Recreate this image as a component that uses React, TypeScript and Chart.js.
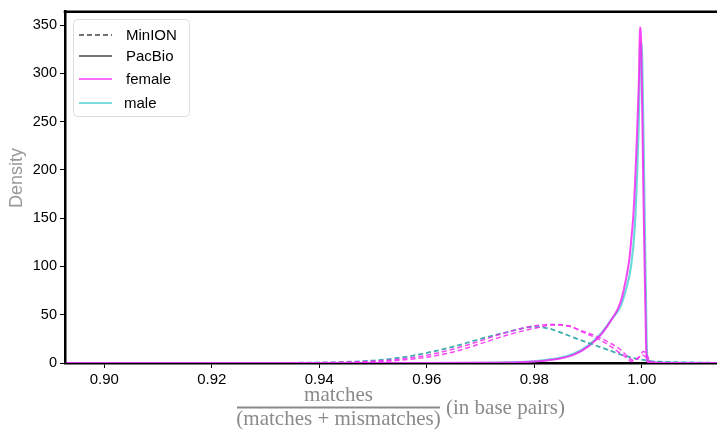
import React, { useEffect, useRef } from "react";
import { Chart, registerables } from "chart.js";

Chart.register(...registerables);

// ---- data ----
const xTicks = [0.9, 0.92, 0.94, 0.96, 0.98, 1.0];
const yTicks = [0, 50, 100, 150, 200, 250, 300, 350];

const minionMaleX = [0.893, 0.92, 0.935, 0.94, 0.945, 0.95, 0.955, 0.96, 0.965, 0.97, 0.975, 0.98, 0.9825, 0.985, 0.9875, 0.99, 0.9925, 0.995, 0.9975, 1.0, 1.0015, 1.004, 1.008, 1.014];
const minionMaleY = [0, 0, 0.2, 0.5, 1.2, 2.5, 5.5, 10.5, 17, 25, 32, 37.5, 36, 31.5, 26, 21, 16, 11, 6.5, 3.5, 2, 1.2, 0.6, 0.2];

const minionFemaleAX = [0.893, 0.935, 0.94, 0.945, 0.95, 0.955, 0.96, 0.965, 0.97, 0.975, 0.98, 0.9835, 0.9865, 0.989, 0.9915, 0.994, 0.996, 0.9975, 0.9985, 0.9995, 1.0003, 1.001, 1.0015, 1.003, 1.008, 1.014];
const minionFemaleAY = [0, 0.1, 0.3, 0.8, 1.8, 4, 8, 14.5, 23, 32, 38.5, 40, 38, 33, 28, 21, 14, 6, 2.5, 6, 12, 8, 2, 0.5, 0.1, 0];

const minionFemaleBX = [0.893, 0.94, 0.945, 0.95, 0.955, 0.96, 0.965, 0.97, 0.975, 0.98, 0.9835, 0.9865, 0.989, 0.9915, 0.994, 0.996, 0.9975, 0.998, 0.999, 1.0002, 1.001, 1.0015, 1.003, 1.014];
const minionFemaleBY = [0, 0.2, 0.5, 1.2, 2.8, 6, 11.5, 20, 29, 36, 39.5, 38.5, 32, 26, 18, 10, 4, 1.5, 4, 8, 5, 1.5, 0.3, 0];

const pacbioFemaleX = [0.893, 0.96, 0.97, 0.975, 0.98, 0.985, 0.9875, 0.99, 0.9925, 0.9945, 0.996, 0.997, 0.9977, 0.998, 0.9984, 0.9987, 0.999, 0.9993, 0.9995, 0.99965, 0.9999, 1.0003, 1.0008, 1.0011, 1.0015, 1.005, 1.014];
const pacbioFemaleY = [0, 0, 0.2, 0.5, 1.5, 5, 9, 17, 30, 46, 62, 85, 108, 125, 150, 180, 220, 265, 300, 348, 330, 180, 20, 1, 0.5, 0, 0];

const pacbioMaleX = [0.893, 0.96, 0.97, 0.975, 0.98, 0.985, 0.9875, 0.99, 0.9925, 0.9945, 0.996, 0.997, 0.998, 0.9987, 0.9991, 0.9994, 0.9996, 0.9998, 1.0001, 1.0005, 1.0009, 1.0012, 1.003, 1.008, 1.014];
const pacbioMaleY = [0, 0, 0.2, 0.6, 1.8, 5.5, 10, 18, 31, 46, 58, 75, 100, 140, 190, 240, 290, 332, 310, 170, 25, 2, 0.5, 0.1, 0];

const legendLabels = ["MinION", "PacBio", "female", "male"];

const MAGENTA = "rgba(245, 40, 245, 0.85)";
const TEAL = "rgba(60, 205, 205, 0.75)";
const TEAL_DARK = "rgba(40, 165, 165, 0.9)";

function pts(xs: number[], ys: number[]) {
  return xs.map((x, i) => ({ x, y: ys[i] }));
}

const decorPlugin = {
  id: "decor",
  afterDraw(chart: any) {
    const ctx = chart.ctx as CanvasRenderingContext2D;
    const a = chart.chartArea;
    ctx.save();
    // top border
    ctx.strokeStyle = "#000";
    ctx.lineWidth = 2.5;
    ctx.beginPath();
    ctx.moveTo(a.left - 1.25, a.top);
    ctx.lineTo(a.right, a.top);
    ctx.stroke();

    // legend
    const lx = 73, ly = 19, lw = 116, lh = 97;
    ctx.fillStyle = "rgba(255,255,255,0.85)";
    ctx.strokeStyle = "#dddddd";
    ctx.lineWidth = 1;
    ctx.beginPath();
    (ctx as any).roundRect(lx + 0.5, ly + 0.5, lw, lh, 4);
    ctx.fill();
    ctx.stroke();
    const rows = [35, 56, 79, 103];
    const cols = ["#444", "#444", "rgba(245,40,245,0.9)", "rgba(60,205,205,0.9)"];
    rows.forEach((y, i) => {
      ctx.strokeStyle = cols[i];
      ctx.lineWidth = 1.6;
      ctx.setLineDash(i === 0 ? [5, 3] : []);
      ctx.beginPath();
      ctx.moveTo(79, y);
      ctx.lineTo(112, y);
      ctx.stroke();
      ctx.setLineDash([]);
      ctx.fillStyle = "#000";
      ctx.font = "15px 'Liberation Sans', Arial, sans-serif";
      ctx.textBaseline = "middle";
      ctx.textAlign = "left";
      ctx.fillText(legendLabels[i], i === 3 ? 124 : 126, y + 1);
    });

    // y title
    ctx.save();
    ctx.translate(17, 178);
    ctx.rotate(-Math.PI / 2);
    ctx.fillStyle = "#999";
    ctx.font = "18px 'Liberation Sans', Arial, sans-serif";
    ctx.textAlign = "center";
    ctx.textBaseline = "middle";
    ctx.fillText("Density", 0, 0);
    ctx.restore();

    // x title (fraction)
    ctx.fillStyle = "#8a8a8a";
    ctx.strokeStyle = "#8a8a8a";
    ctx.font = "21px 'Liberation Serif', 'Times New Roman', serif";
    ctx.textBaseline = "middle";
    ctx.textAlign = "center";
    const fx1 = 237, fx2 = 440;
    const cx = (fx1 + fx2) / 2;
    ctx.fillText("matches", cx, 395);
    ctx.lineWidth = 2;
    ctx.beginPath();
    ctx.moveTo(fx1, 407.5);
    ctx.lineTo(fx2, 407.5);
    ctx.stroke();
    ctx.fillText("(matches + mismatches)", cx, 419);
    ctx.textAlign = "left";
    ctx.fillText("(in base pairs)", 446, 408);
    ctx.restore();
  },
};

export default function App() {
  const ref = useRef<HTMLCanvasElement | null>(null);
  useEffect(() => {
    if (!ref.current) return;
    const lineDs = (label: string, data: any[], color: string, dashed: boolean, width: number) => ({
      label,
      data,
      borderColor: color,
      backgroundColor: color,
      borderWidth: width,
      borderDash: dashed ? [5, 3] : [],
      pointRadius: 0,
      fill: false,
      cubicInterpolationMode: "monotone" as const,
    });
    const chart = new Chart(ref.current, {
      type: "line",
      data: {
        datasets: [
          lineDs("MinION female A", pts(minionFemaleAX, minionFemaleAY), MAGENTA, true, 1.5),
          lineDs("MinION female B", pts(minionFemaleBX, minionFemaleBY), MAGENTA, true, 1.5),
          lineDs("MinION male", pts(minionMaleX, minionMaleY), TEAL_DARK, true, 1.8),
          lineDs("PacBio female", pts(pacbioFemaleX, pacbioFemaleY), MAGENTA, false, 2),
          lineDs("PacBio male", pts(pacbioMaleX, pacbioMaleY), TEAL, false, 2.2),
        ],
      },
      plugins: [decorPlugin],
      options: {
        animation: false,
        responsive: false,
        maintainAspectRatio: false,
        layout: { padding: { top: 11, right: 0, left: 0, bottom: 0 } },
        plugins: { legend: { display: false }, tooltip: { enabled: false } },
        scales: {
          x: {
            type: "linear",
            min: 0.8927,
            max: 1.014,
            afterBuildTicks: (axis: any) => {
              axis.ticks = xTicks.map((v) => ({ value: v }));
            },
            afterFit: (axis: any) => {
              axis.height = 67;
            },
            ticks: {
              callback: (v: any) => Number(v).toFixed(2),
              color: "#000",
              font: { size: 15, family: "'Liberation Sans', Arial, sans-serif" },
              padding: 3,
              maxRotation: 0,
              autoSkip: false,
            },
            grid: { drawOnChartArea: false, drawTicks: true, tickLength: 5, tickColor: "#000", tickWidth: 1 },
            border: { display: true, color: "#000", width: 2.5 },
          },
          y: {
            type: "linear",
            min: 0,
            max: 364,
            afterBuildTicks: (axis: any) => {
              axis.ticks = yTicks.map((v) => ({ value: v }));
            },
            afterFit: (axis: any) => {
              axis.width = 65;
            },
            ticks: {
              color: "#000",
              font: { size: 14.5, family: "'Liberation Sans', Arial, sans-serif" },
              padding: 3,
              autoSkip: false,
            },
            grid: { drawOnChartArea: false, drawTicks: true, tickLength: 5, tickColor: "#000", tickWidth: 1 },
            border: { display: true, color: "#000", width: 2.5 },
          },
        },
      },
    });
    return () => chart.destroy();
  }, []);
  return (
    <div style={{ position: "absolute", left: 0, top: 0, width: 717, height: 430 }}>
      <canvas ref={ref} width={717} height={430} style={{ width: 717, height: 430 }} />
    </div>
  );
}
